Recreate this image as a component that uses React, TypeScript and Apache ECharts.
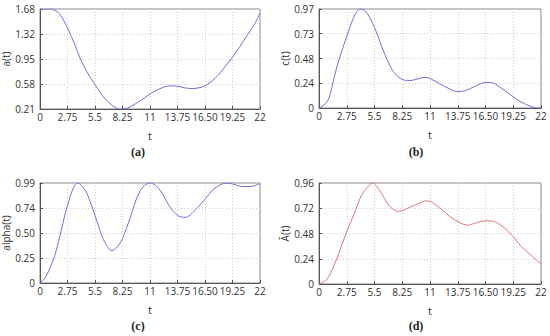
import React, { useEffect, useRef } from "react";
import * as echarts from "echarts";

const xTickLabels = ["0", "2.75", "5.5", "8.25", "11", "13.75", "16.50", "19.25", "22"];

const aTicks = ["0.21", "0.58", "0.95", "1.32", "1.68"];
const cTicks = ["0", "0.24", "0.48", "0.73", "0.97"];
const alphaTicks = ["0", "0.25", "0.50", "0.74", "0.99"];
const abarTicks = ["0", "0.24", "0.48", "0.72", "0.96"];

const aT = [0, 0.5, 1, 1.5, 2, 2.75, 3.5, 4, 4.75, 5.5, 6, 6.5, 7, 7.5, 8, 8.5, 9, 10, 11, 12, 13, 13.75, 14.5, 15.2, 16, 16.5, 17.5, 18.5, 19.25, 20, 20.75, 21.5, 22];
const aV = [1.675, 1.68, 1.68, 1.66, 1.6, 1.4, 1.15, 0.96, 0.74, 0.57, 0.46, 0.36, 0.29, 0.235, 0.21, 0.215, 0.24, 0.33, 0.43, 0.51, 0.55, 0.545, 0.52, 0.51, 0.525, 0.55, 0.66, 0.83, 0.97, 1.13, 1.3, 1.47, 1.62];

const cT = [0, 0.5, 1, 1.5, 2, 2.75, 3.5, 4.1, 4.6, 5, 5.5, 6, 6.5, 7, 7.5, 8.25, 9, 10, 10.4, 11, 12, 13, 13.75, 14.5, 15.5, 16.5, 17, 18, 19.25, 20, 21, 21.6, 22];
const cV = [0, 0.03, 0.1, 0.3, 0.48, 0.7, 0.9, 0.97, 0.95, 0.89, 0.79, 0.66, 0.53, 0.42, 0.34, 0.28, 0.27, 0.29, 0.3, 0.29, 0.235, 0.185, 0.16, 0.17, 0.215, 0.25, 0.25, 0.2, 0.11, 0.06, 0.015, 0, 0];

const alT = [0, 0.5, 1, 1.5, 2, 2.5, 2.75, 3.25, 3.75, 4.5, 5, 5.5, 6, 6.5, 7.2, 7.75, 8.25, 9, 10, 11, 12, 13, 13.75, 14.5, 15.5, 16.5, 17.5, 18.7, 19.25, 20.3, 21, 22];
const alV = [0, 0.05, 0.15, 0.28, 0.47, 0.68, 0.77, 0.92, 0.99, 0.92, 0.81, 0.67, 0.52, 0.4, 0.32, 0.36, 0.44, 0.64, 0.91, 0.99, 0.92, 0.75, 0.67, 0.65, 0.72, 0.83, 0.94, 0.99, 0.98, 0.955, 0.955, 0.985];

const abT = [0, 0.75, 1.5, 2, 2.75, 3.5, 4.25, 5, 5.3, 6, 7, 7.9, 9, 10, 10.6, 11, 12, 13, 14, 14.75, 15.5, 16.5, 17, 18, 19.25, 20, 21, 22];
const abV = [0, 0.04, 0.18, 0.3, 0.5, 0.67, 0.85, 0.94, 0.96, 0.89, 0.74, 0.69, 0.73, 0.77, 0.79, 0.785, 0.72, 0.64, 0.58, 0.56, 0.58, 0.6, 0.6, 0.56, 0.45, 0.36, 0.275, 0.19];

const panels = [
  { name: "a(t)", t: aT, v: aV, ticks: aTicks, min: 0.21, max: 1.68, color: "#6f6fe0", caption: "(a)" },
  { name: "c(t)", t: cT, v: cV, ticks: cTicks, min: 0, max: 0.97, color: "#6f6fe0", caption: "(b)" },
  { name: "alpha(t)", t: alT, v: alV, ticks: alphaTicks, min: 0, max: 0.99, color: "#6f6fe0", caption: "(c)" },
  { name: "Ā(t)", t: abT, v: abV, ticks: abarTicks, min: 0, max: 0.96, color: "#e07474", caption: "(d)" },
];

const grids = [
  { left: 39, top: 9, width: 221, height: 100 },
  { left: 319, top: 9, width: 222, height: 99 },
  { left: 39, top: 183, width: 221, height: 100 },
  { left: 319, top: 183, width: 222, height: 101 },
];

const captionPos = [
  { x: 138, y: 152 },
  { x: 416, y: 152 },
  { x: 138, y: 326 },
  { x: 416, y: 326 },
];

export default function App() {
  const ref = useRef<HTMLDivElement>(null);
  useEffect(() => {
    if (!ref.current) return;
    const chart = echarts.init(ref.current, null, { renderer: "svg" });
    const font = "'Open Sans', 'DejaVu Sans', sans-serif";
    const xAxis: any[] = [];
    const yAxis: any[] = [];
    const series: any[] = [];
    panels.forEach((p, i) => {
      xAxis.push({
        type: "value",
        gridIndex: i,
        min: 0,
        max: 22,
        interval: 2.75,
        name: "t",
        nameLocation: "middle",
        nameGap: 21,
        nameTextStyle: { fontFamily: font, fontSize: 11, color: "#333" },
        axisLine: { show: true, lineStyle: { color: "#555", width: 1 } },
        axisTick: { show: true, inside: true, length: 3, lineStyle: { color: "#555" } },
        axisLabel: {
          fontFamily: font,
          fontSize: 10,
          color: "#333",
          margin: 3,
          formatter: (val: number) => xTickLabels[Math.round(val / 2.75)] ?? "",
        },
        splitLine: { show: true, lineStyle: { color: "#ccc", type: [1, 2], width: 1 } },
      });
      const interval = (p.max - p.min) / 4;
      yAxis.push({
        type: "value",
        gridIndex: i,
        min: p.min,
        max: p.max,
        interval,
        name: p.name,
        nameLocation: "middle",
        nameGap: 29,
        nameTextStyle: { fontFamily: font, fontSize: 10, color: "#333" },
        axisLine: { show: true, lineStyle: { color: "#555", width: 1 } },
        axisTick: { show: true, inside: true, length: 3, lineStyle: { color: "#555" } },
        axisLabel: {
          fontFamily: font,
          fontSize: 10,
          color: "#333",
          margin: 5,
          formatter: (val: number) => p.ticks[Math.round((val - p.min) / interval)] ?? "",
        },
        splitLine: { show: true, lineStyle: { color: "#ccc", type: [1, 2], width: 1 } },
      });
      series.push({
        type: "line",
        xAxisIndex: i,
        yAxisIndex: i,
        data: p.t.map((t, k) => [t, p.v[k]]),
        smooth: 0.35,
        showSymbol: false,
        lineStyle: { color: p.color, width: 1 },
        clip: true,
      });
    });
    chart.setOption({
      animation: false,
      backgroundColor: "#fff",
      grid: grids.map((g) => ({ ...g, show: true, borderColor: "#888", borderWidth: 1, containLabel: false })),
      xAxis,
      yAxis,
      series,
      graphic: panels.map((p, i) => ({
        type: "text",
        x: captionPos[i].x,
        y: captionPos[i].y,
        style: {
          text: p.caption,
          fontFamily: "'Liberation Serif', 'DejaVu Serif', serif",
          fontWeight: "bold",
          fontSize: 12,
          fill: "#222",
          align: "center",
          verticalAlign: "middle",
        },
      })),
    });
    return () => chart.dispose();
  }, []);
  return <div ref={ref} style={{ width: 550, height: 336, position: "absolute", left: 0, top: 0 }} />;
}
